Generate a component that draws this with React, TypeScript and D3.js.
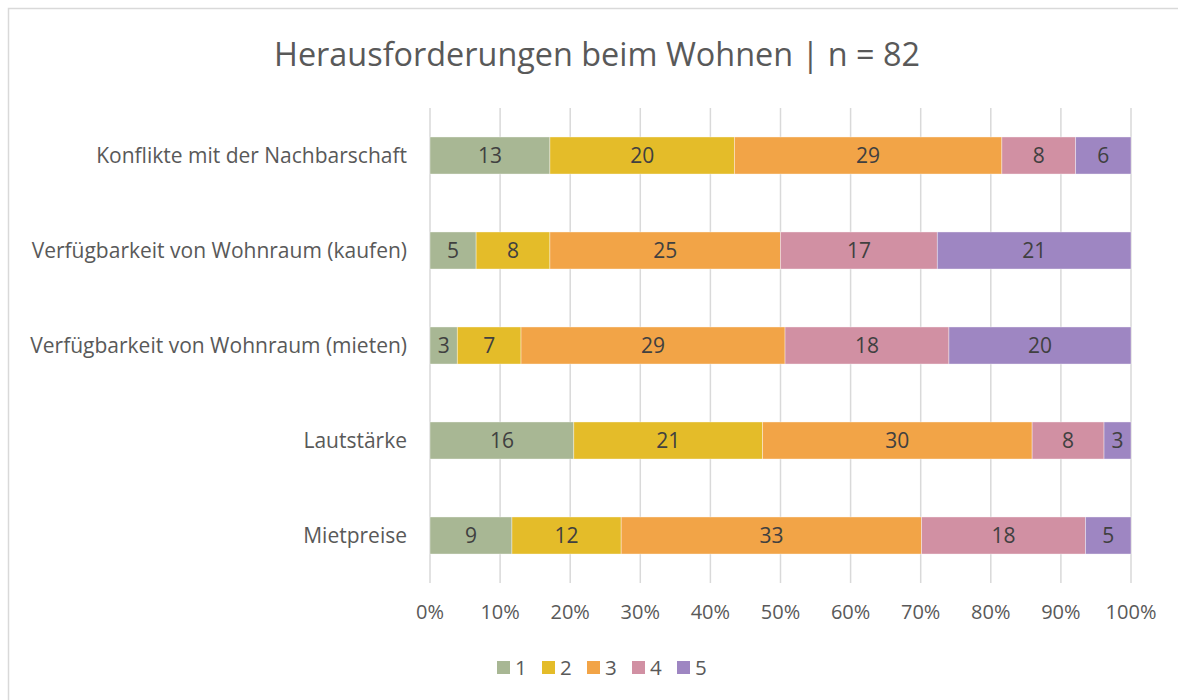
import React, { useEffect, useRef } from "react"
import * as d3 from "d3"

const categories = [
    "Konflikte mit der Nachbarschaft",
    "Verfügbarkeit von Wohnraum (kaufen)",
    "Verfügbarkeit von Wohnraum (mieten)",
    "Lautstärke",
    "Mietpreise",
]
const seriesNames = ["1", "2", "3", "4", "5"]
const s1 = [13, 5, 3, 16, 9]
const s2 = [20, 8, 7, 21, 12]
const s3 = [29, 25, 29, 30, 33]
const s4 = [8, 17, 18, 8, 18]
const s5 = [6, 21, 20, 3, 5]
const colors = ["#A8B794", "#E4BC29", "#F2A447", "#D190A3", "#9E86C2"]
const ticks = [0, 0.1, 0.2, 0.3, 0.4, 0.5, 0.6, 0.7, 0.8, 0.9, 1]

const FONT = "'Open Sans', 'Noto Sans', sans-serif"
const FS = 21

const App = () => {
    const ref = useRef<SVGSVGElement | null>(null)

    useEffect(() => {
        const svg = d3.select(ref.current)
        svg.selectAll("*").remove()

        const W = 1178
        const H = 700
        const series = [s1, s2, s3, s4, s5]

        // chart border
        svg.append("rect")
            .attr("x", 8.5)
            .attr("y", 8.5)
            .attr("width", W + 20)
            .attr("height", H + 20)
            .attr("fill", "#fff")
            .attr("stroke", "#D9D9D9")
            .attr("stroke-width", 1.5)

        svg.append("text")
            .attr("x", 597)
            .attr("y", 66)
            .attr("text-anchor", "middle")
            .attr("font-family", FONT)
            .attr("font-size", 32.4)
            .attr("fill", "#595959")
            .text("Herausforderungen beim Wohnen | n = 82")

        const x = d3.scaleLinear().domain([0, 1]).range([430, 1131])
        const y = d3
            .scaleBand()
            .domain(categories)
            .range([108, 583])
            .paddingInner(0.61)
            .paddingOuter(0.305)

        // grid
        svg.append("g")
            .selectAll("line")
            .data(ticks)
            .enter()
            .append("line")
            .attr("x1", (d) => x(d))
            .attr("x2", (d) => x(d))
            .attr("y1", 108)
            .attr("y2", 583)
            .attr("stroke", "#D9D9D9")
            .attr("stroke-width", 1.5)

        svg.append("g")
            .selectAll("text")
            .data(ticks)
            .enter()
            .append("text")
            .attr("x", (d) => x(d))
            .attr("y", 619)
            .attr("text-anchor", "middle")
            .attr("font-family", FONT)
            .attr("font-size", 20)
            .attr("fill", "#595959")
            .text((d) => d3.format(".0%")(d))

        // category labels
        svg.append("g")
            .selectAll("text")
            .data(categories)
            .enter()
            .append("text")
            .attr("x", 407)
            .attr("y", (d) => (y(d) as number) + y.bandwidth() / 2 + 7)
            .attr("text-anchor", "end")
            .attr("font-family", FONT)
            .attr("font-size", FS)
            .attr("fill", "#595959")
            .text((d) => d)

        const cells: any[] = []
        categories.forEach((c, i) => {
            const total = d3.sum(series, (s) => s[i])
            let acc = 0
            series.forEach((s, k) => {
                cells.push({
                    cat: c,
                    k,
                    v: s[i],
                    x0: acc / total,
                    x1: (acc + s[i]) / total,
                })
                acc += s[i]
            })
        })

        svg.append("g")
            .selectAll("rect")
            .data(cells)
            .enter()
            .append("rect")
            .attr("x", (d) => x(d.x0))
            .attr("y", (d) => y(d.cat) as number)
            .attr("width", (d) => x(d.x1) - x(d.x0))
            .attr("height", y.bandwidth())
            .attr("fill", (d) => colors[d.k])
            .attr("stroke", "rgba(255,255,255,0.5)")
            .attr("stroke-width", 0.75)

        svg.append("g")
            .selectAll("text")
            .data(cells)
            .enter()
            .append("text")
            .attr("x", (d) => (x(d.x0) + x(d.x1)) / 2)
            .attr("y", (d) => (y(d.cat) as number) + y.bandwidth() / 2 + 7.5)
            .attr("text-anchor", "middle")
            .attr("font-family", FONT)
            .attr("font-size", FS)
            .attr("fill", "#404040")
            .text((d) => d.v)

        // legend
        const legend = svg
            .append("g")
            .selectAll("g")
            .data(seriesNames)
            .enter()
            .append("g")
            .attr("transform", (d, i) => "translate(" + (497 + i * 45) + ",661)")
        legend
            .append("rect")
            .attr("width", 13)
            .attr("height", 13)
            .attr("fill", (d, i) => colors[i])
        legend
            .append("text")
            .attr("x", 18)
            .attr("y", 14)
            .attr("font-family", FONT)
            .attr("font-size", 20.5)
            .attr("fill", "#595959")
            .text((d) => d)
    }, [])

    return (
        <svg
            ref={ref}
            width={1178}
            height={700}
            style={{ position: "absolute", left: 0, top: 0 }}
        />
    )
}

export default App
